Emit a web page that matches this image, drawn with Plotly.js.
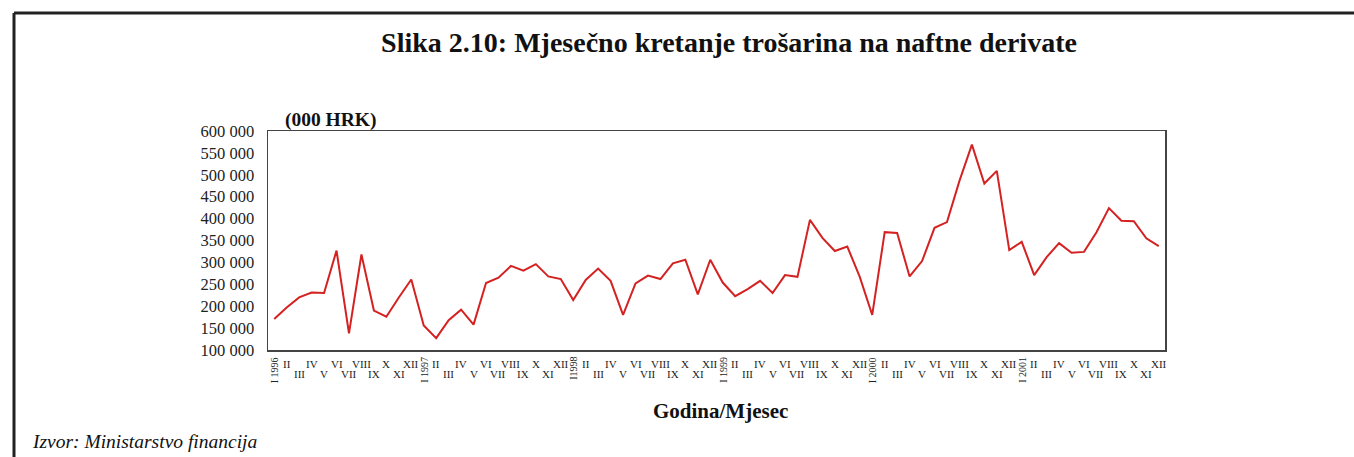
<!DOCTYPE html>
<html>
<head>
<meta charset="utf-8">
<script src="https://cdn.plot.ly/plotly-3.0.1.min.js"></script>
<style>html,body{margin:0;padding:0;background:#fff;}#chart{width:1354px;height:457px;}</style>
</head>
<body>
<div id="chart"></div>
<script>
// Data (thousand HRK), monthly 1996-2001
var years = ["1996", "1997", "1998", "1999", "2000", "2001"];
var months = ["I", "II", "III", "IV", "V", "VI", "VII", "VIII", "IX", "X", "XI", "XII"];
var excise1996 = [171000, 197000, 220000, 231000, 230000, 327000, 138000, 318000, 190000, 176000, 220000, 261000];
var excise1997 = [156000, 127000, 168000, 192000, 158000, 253000, 265000, 292000, 281000, 296000, 268000, 262000];
var excise1998 = [214000, 260000, 286000, 258000, 180000, 252000, 270000, 262000, 298000, 306000, 227000, 306000];
var excise1999 = [254000, 223000, 239000, 258000, 230000, 271000, 267000, 397000, 356000, 326000, 336000, 267000];
var excise2000 = [180000, 369000, 367000, 268000, 303000, 379000, 392000, 486000, 569000, 480000, 509000, 328000];
var excise2001 = [347000, 271000, 312000, 344000, 322000, 324000, 369000, 424000, 395000, 394000, 355000, 337000];
var yTickVals = [100000, 150000, 200000, 250000, 300000, 350000, 400000, 450000, 500000, 550000, 600000];
var yTickText = ["100 000", "150 000", "200 000", "250 000", "300 000", "350 000", "400 000", "450 000", "500 000", "550 000", "600 000"];

var seriesByYear = [excise1996, excise1997, excise1998, excise1999, excise2000, excise2001];
var categories = [];
var values = [];
years.forEach(function (yr, yi) {
  months.forEach(function (m, mi) {
    categories.push(m + "-" + yr);
    values.push(seriesByYear[yi][mi]);
  });
});

var serif = "Liberation Serif, Times New Roman, serif";
var annotations = [];
years.forEach(function (yr) {
  months.forEach(function (m, mi) {
    var cat = m + "-" + yr;
    if (mi === 0) {
      annotations.push({
        x: cat, xref: "x", y: 0, yref: "paper",
        text: (yr === "1998" ? "I" : "I ") + yr, showarrow: false, textangle: -90,
        xanchor: "center", yanchor: "top", yshift: -5,
        font: {family: serif, size: 10, color: "#222"}
      });
    } else {
      var upper = (mi % 2 === 1);
      annotations.push({
        x: cat, xref: "x", y: 0, yref: "paper",
        text: m, showarrow: false,
        xanchor: "center", yanchor: "top", yshift: upper ? -6 : -16,
        font: {family: serif, size: 11, color: "#222"}
      });
    }
  });
});
annotations.push({
  x: (283 - 268) / 897, xref: "paper", y: 1, yref: "paper", text: "<b>(000 HRK)</b>", showarrow: false,
  xanchor: "left", yanchor: "bottom", yshift: -2,
  font: {family: serif, size: 19.5, color: "#111"}
});
annotations.push({
  x: (720 - 268) / 897, xref: "paper", y: (350 - 411) / 219, yref: "paper",
  text: "<b>Godina/Mjesec</b>", showarrow: false, xanchor: "center", yanchor: "middle",
  font: {family: serif, size: 21, color: "#111"}
});
annotations.push({
  x: (30 - 268) / 897, xref: "paper", y: (350 - 441) / 219, yref: "paper",
  text: "<i>Izvor: Ministarstvo financija</i>", showarrow: false, xanchor: "left", yanchor: "middle",
  font: {family: serif, size: 19.5, color: "#111"}
});

var trace = {
  x: categories, y: values, type: "scatter", mode: "lines",
  line: {color: "#d42222", width: 2},
  hoverinfo: "x+y"
};

var layout = {
  width: 1354, height: 457,
  margin: {l: 268, r: 189, t: 131, b: 107},
  paper_bgcolor: "#fff", plot_bgcolor: "#fff",
  showlegend: false,
  title: {
    text: "<b>Slika 2.10: Mjesečno kretanje trošarina na naftne derivate</b>",
    x: 729 / 1354, xref: "container", xanchor: "center",
    y: 1 - 42 / 457, yref: "container", yanchor: "middle",
    font: {family: serif, size: 28, color: "#111"}
  },
  xaxis: {
    type: "category", categoryorder: "array", categoryarray: categories,
    showticklabels: false, ticks: "", showgrid: false, zeroline: false,
    showline: true, linecolor: "#444", linewidth: 1.5, mirror: true,
    range: [-0.5, categories.length - 0.5], fixedrange: true
  },
  yaxis: {
    range: [100000, 600000], tickvals: yTickVals, ticktext: yTickText,
    ticks: "outside", ticklen: 9, tickcolor: "rgba(0,0,0,0)",
    showgrid: false, zeroline: false,
    showline: true, linecolor: "#444", linewidth: 1.5, mirror: true,
    tickfont: {family: serif, size: 16.5, color: "#222"}, fixedrange: true
  },
  annotations: annotations,
  shapes: [
    {type: "line", xref: "paper", yref: "paper",
     x0: (14 - 268) / 897, x1: (1354 - 268) / 897, y0: (350 - 13) / 219, y1: (350 - 13) / 219,
     line: {color: "#222", width: 3}},
    {type: "line", xref: "paper", yref: "paper",
     x0: (14 - 268) / 897, x1: (14 - 268) / 897, y0: (350 - 13) / 219, y1: (350 - 460) / 219,
     line: {color: "#222", width: 3}}
  ]
};

Plotly.newPlot("chart", [trace], layout, {displayModeBar: false, staticPlot: true});
</script>
</body>
</html>
